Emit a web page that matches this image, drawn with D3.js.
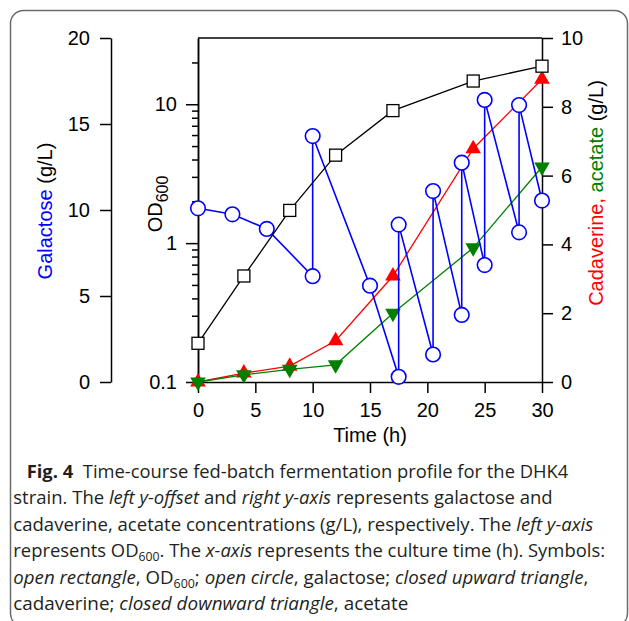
<!DOCTYPE html>
<html>
<head>
<meta charset="utf-8">
<script src="https://cdn.jsdelivr.net/npm/d3@7"></script>
<style>
  html, body { margin: 0; padding: 0; background: #fff; }
  svg { display: block; }
</style>
</head>
<body>
<div id="container"></div>
<script>
/* DATA */
const timeOD = [0, 4, 8, 12, 17, 24, 30];
const od600 = [0.19, 0.58, 1.72, 4.3, 9.0, 14.7, 18.8];

const timeGal = [0, 3, 6, 10, 10, 15, 17.5, 17.5, 20.5, 20.5, 23, 23, 25, 25, 28, 28, 30];
const galactose = [10.1, 9.75, 8.9, 6.15, 14.3, 5.6, 0.3, 9.15, 1.6, 11.1, 3.9, 12.75, 6.8, 16.4, 8.7, 16.1, 10.55];

const timeProd = [0, 4, 8, 12, 17, 24, 30];
const cadaverine = [0, 0.26, 0.46, 1.2, 3.08, 6.78, 8.8];
const acetate = [0, 0.21, 0.37, 0.5, 2.0, 3.9, 6.25];

const xTicks = [0, 5, 10, 15, 20, 25, 30];
const galTicks = [0, 5, 10, 15, 20];
const odTicks = [0.1, 1, 10];
const rightTicks = [0, 2, 4, 6, 8, 10];

/* CONSTANTS */
const width = 629, height = 621;
const plot = { left: 198, right: 542, top: 38, bottom: 382 };
const galAxisX = 111;
const axisFont = "'Liberation Sans', Arial, sans-serif";
const blue = "#0000ff", red = "#ff0000", green = "#008000";

const svg = d3.select("#container")
  .append("svg")
  .attr("width", width)
  .attr("height", height);

// frame
svg.append("rect")
  .attr("x", 10.5).attr("y", 10.5)
  .attr("width", 617).attr("height", 616)
  .attr("rx", 13)
  .attr("fill", "none")
  .attr("stroke", "#6b6b6b")
  .attr("stroke-width", 1.5);

/* SCALES */
const xScale = d3.scaleLinear().domain([0, 30]).range([plot.left, plot.right]);
const odScale = d3.scaleLog().domain([0.1, 30]).range([plot.bottom, plot.top]);
const galScale = d3.scaleLinear().domain([0, 20]).range([plot.bottom, plot.top]);
const rightScale = d3.scaleLinear().domain([0, 10]).range([plot.bottom, plot.top]);

/* AXES */
const styleAxis = g => {
  g.attr("font-family", axisFont).attr("font-size", 20);
  g.selectAll("text").attr("fill", "#000");
  g.selectAll("line, path").attr("stroke", "#000").attr("stroke-width", 1.5);
};

svg.append("g")
  .attr("transform", `translate(0, ${plot.bottom})`)
  .call(d3.axisBottom(xScale).tickValues(xTicks).tickSize(11).tickSizeOuter(0).tickPadding(10))
  .call(styleAxis);

svg.append("g")
  .attr("transform", `translate(${galAxisX}, 0)`)
  .call(d3.axisLeft(galScale).tickValues(galTicks).tickSize(11).tickSizeOuter(0).tickPadding(10))
  .call(styleAxis);

// OD minor ticks
const odMinor = [];
[0.1, 1, 10].forEach(dec => {
  for (let k = 2; k <= 9; k++) if (dec * k < 30) odMinor.push(dec * k);
});
svg.append("g")
  .attr("transform", `translate(${plot.left}, 0)`)
  .call(d3.axisLeft(odScale).tickValues(odMinor).tickSize(6).tickSizeOuter(0).tickFormat(""))
  .call(styleAxis);

svg.append("g")
  .attr("transform", `translate(${plot.left}, 0)`)
  .call(d3.axisLeft(odScale).tickValues(odTicks).tickSize(12).tickSizeOuter(0).tickPadding(9)
    .tickFormat(d => d === 0.1 ? "0.1" : d3.format("d")(d)))
  .call(styleAxis);

svg.append("g")
  .attr("transform", `translate(${plot.right}, 0)`)
  .call(d3.axisRight(rightScale).tickValues(rightTicks).tickSize(11).tickSizeOuter(0).tickPadding(8))
  .call(styleAxis);

// top border
svg.append("line")
  .attr("x1", plot.left).attr("x2", plot.right)
  .attr("y1", plot.top).attr("y2", plot.top)
  .attr("stroke", "#000").attr("stroke-width", 1.5);

/* AXIS TITLES */
svg.append("text")
  .attr("x", (plot.left + plot.right) / 2)
  .attr("y", 442)
  .attr("text-anchor", "middle")
  .attr("font-family", axisFont).attr("font-size", 20)
  .text("Time (h)");

const galTitle = svg.append("text")
  .attr("transform", "translate(52, 211) rotate(-90)")
  .attr("text-anchor", "middle")
  .attr("font-family", axisFont).attr("font-size", 20);
galTitle.append("tspan").attr("fill", blue).text("Galactose");
galTitle.append("tspan").attr("fill", "#000").text(" (g/L)");

const odTitle = svg.append("text")
  .attr("transform", "translate(162, 204) rotate(-90)")
  .attr("text-anchor", "middle")
  .attr("font-family", axisFont).attr("font-size", 20);
odTitle.append("tspan").text("OD");
odTitle.append("tspan").attr("font-size", 16).attr("dy", 6).text("600");

const rightTitle = svg.append("text")
  .attr("transform", "translate(603, 193) rotate(-90)")
  .attr("text-anchor", "middle")
  .attr("font-family", axisFont).attr("font-size", 20)
  .style("white-space", "pre");
rightTitle.append("tspan").attr("fill", red).text("Cadaverine,");
rightTitle.append("tspan").attr("fill", green).text(" acetate");
rightTitle.append("tspan").attr("fill", "#000").text(" (g/L)");

/* SERIES */
const line = (xs, ys, yScale) => d3.line()
  .x((d, i) => xScale(xs[i]))
  .y(d => yScale(d))(ys);

// cadaverine
svg.append("path")
  .attr("d", line(timeProd, cadaverine, rightScale))
  .attr("fill", "none").attr("stroke", red).attr("stroke-width", 1.3);
svg.selectAll(".cad")
  .data(cadaverine)
  .join("path")
  .attr("class", "cad")
  .attr("d", d3.symbol(d3.symbolTriangle, 105))
  .attr("transform", (d, i) => `translate(${xScale(timeProd[i])}, ${rightScale(d)})`)
  .attr("fill", red);

// acetate
svg.append("path")
  .attr("d", line(timeProd, acetate, rightScale))
  .attr("fill", "none").attr("stroke", green).attr("stroke-width", 1.3);
svg.selectAll(".ace")
  .data(acetate)
  .join("path")
  .attr("class", "ace")
  .attr("d", d3.symbol(d3.symbolTriangle, 105))
  .attr("transform", (d, i) => `translate(${xScale(timeProd[i])}, ${rightScale(d)}) rotate(180)`)
  .attr("fill", green);

// galactose
svg.append("path")
  .attr("d", line(timeGal, galactose, galScale))
  .attr("fill", "none").attr("stroke", blue).attr("stroke-width", 1.6);
svg.selectAll(".gal")
  .data(galactose)
  .join("circle")
  .attr("class", "gal")
  .attr("cx", (d, i) => xScale(timeGal[i]))
  .attr("cy", d => galScale(d))
  .attr("r", 7.3)
  .attr("fill", "#fff")
  .attr("stroke", blue).attr("stroke-width", 1.6);

// OD600
svg.append("path")
  .attr("d", line(timeOD, od600, odScale))
  .attr("fill", "none").attr("stroke", "#000").attr("stroke-width", 1.3);
svg.selectAll(".od")
  .data(od600)
  .join("rect")
  .attr("class", "od")
  .attr("x", (d, i) => xScale(timeOD[i]) - 6)
  .attr("y", d => odScale(d) - 6)
  .attr("width", 12).attr("height", 12)
  .attr("fill", "#fff")
  .attr("stroke", "#000").attr("stroke-width", 1.3);

/* CAPTION */
const captionLines = [
  [["Fig. 4", "b"], ["  Time-course fed-batch fermentation profile for the DHK4"]],
  [["strain. The "], ["left y-offset", "i"], [" and "], ["right y-axis", "i"], [" represents galactose and"]],
  [["cadaverine, acetate concentrations (g/L), respectively. The "], ["left y-axis", "i"]],
  [["represents OD"], ["600", "sub"], [". The "], ["x-axis", "i"], [" represents the culture time (h). Symbols:"]],
  [["open rectangle", "i"], [", OD"], ["600", "sub"], ["; "], ["open circle", "i"], [", galactose; "], ["closed upward triangle", "i"], [","]],
  [["cadaverine; "], ["closed downward triangle", "i"], [", acetate"]]
];
const captionStart = [26.7, 13.3, 13.3, 13.3, 13.3, 13.3];
const captionEnd = [568.3, 552.7, 593.3, 605, 588.3, 408.3];

const caption = svg.append("g")
  .attr("font-family", "'Open Sans', 'Noto Sans', sans-serif")
  .attr("fill", "#231f20");

captionLines.forEach((segs, li) => {
  const t = caption.append("text")
    .attr("x", captionStart[li])
    .attr("y", 478 + li * 26.4)
    .attr("font-size", 18)
    .style("white-space", "pre");
  let shifted = false;
  segs.forEach(([txt, st]) => {
    const ts = t.append("tspan").text(txt);
    if (st === "b") ts.attr("font-weight", "bold");
    if (st === "i") ts.attr("font-style", "italic");
    if (st === "sub") { ts.attr("font-size", 12).attr("dy", 4); shifted = true; }
    else if (shifted) { ts.attr("dy", -4); shifted = false; }
  });
  t.attr("textLength", captionEnd[li] - captionStart[li])
    .attr("lengthAdjust", "spacingAndGlyphs");
});
</script>
</body>
</html>
